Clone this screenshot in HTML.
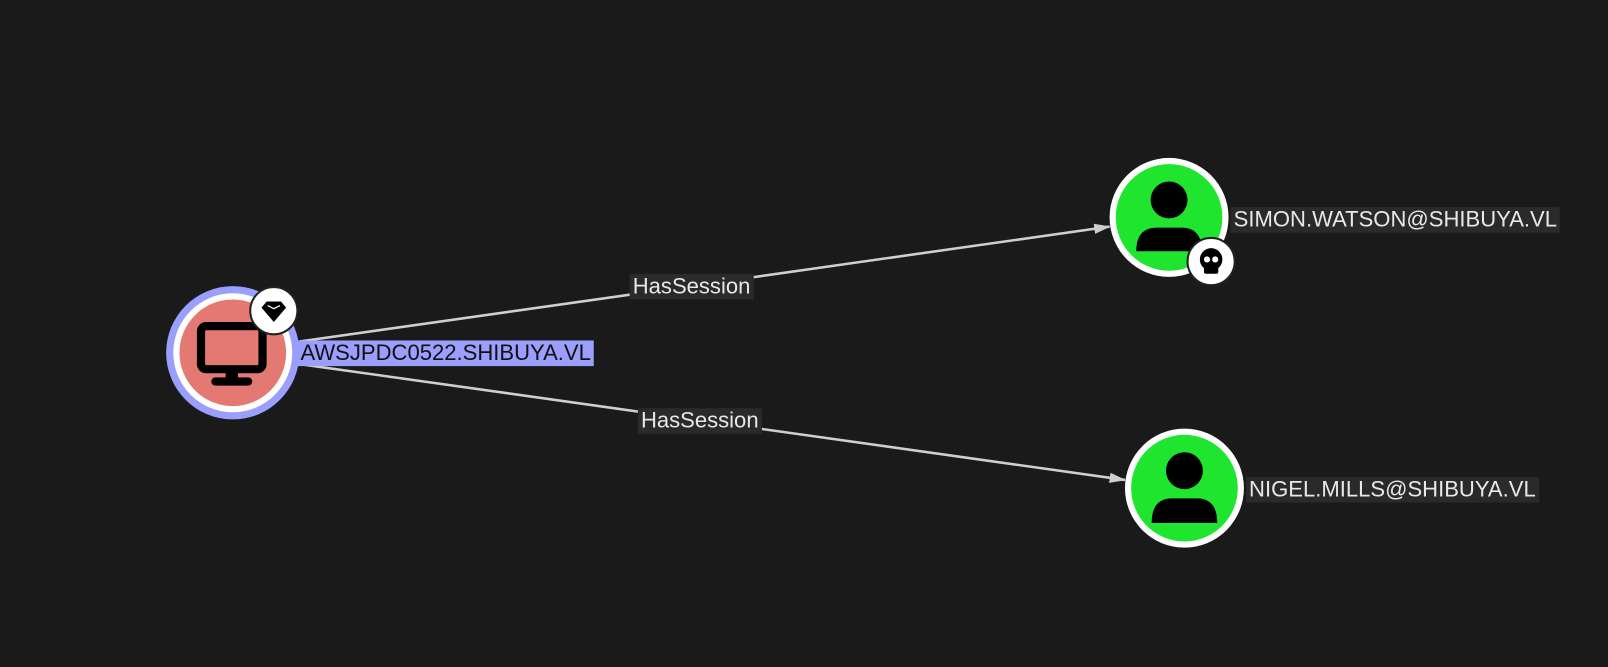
<!DOCTYPE html>
<html><head><style>
body{margin:0;background:#1a1a1a;width:1608px;height:667px;overflow:hidden;font-family:"Liberation Sans",sans-serif}
#w{position:absolute;left:0;top:0;width:1568px;height:650px;transform:scale(1.0255);transform-origin:0 0}
.l{position:absolute;font-size:21.5px;line-height:25px;padding:0 3px;color:#e8e8e8;background:#2a2a2a;white-space:nowrap}
</style></head><body><div id="w">
<svg width="1568" height="650" style="position:absolute;left:0;top:0">
<defs><marker id="a" markerWidth="16" markerHeight="10" refX="15" refY="5" orient="auto" markerUnits="userSpaceOnUse"><path d="M0,0L16,5L0,10z" fill="#cfcfcf"/></marker></defs>
<line x1="292" y1="333" x2="1082" y2="221" stroke="#cfcfcf" stroke-width="2.5" marker-end="url(#a)"/>
<line x1="292" y1="355" x2="1097" y2="468" stroke="#cfcfcf" stroke-width="2.5" marker-end="url(#a)"/>
<circle cx="227" cy="344" r="65" fill="#9a9efc"/>
<circle cx="227" cy="344" r="58" fill="#fff"/>
<circle cx="227" cy="344" r="52" fill="#e47872"/>
<rect x="196" y="318" width="60" height="42" rx="5" fill="none" stroke="#000" stroke-width="8"/>
<rect x="220" y="362" width="12" height="9" fill="#000"/>
<rect x="206" y="368" width="40" height="8" rx="4" fill="#000"/>
<circle cx="267" cy="303" r="23" fill="#fff" stroke="#222" stroke-width="2"/>
<path d="M255,300 L260,294 L274,294 L279,300 L267,314 Z" fill="#000"/>
<path d="M261,298 L267,301 L273,298" stroke="#fff" stroke-width="1.2" fill="none"/>
<circle cx="1140" cy="212" r="58" fill="#fff"/>
<circle cx="1140" cy="212" r="52" fill="#1fe52f"/>
<circle cx="1140" cy="195" r="18" fill="#000"/>
<path d="M1108,245 Q1108,222 1128,222 L1152,222 Q1172,222 1172,245 Z" fill="#000"/>
<circle cx="1181" cy="255" r="23" fill="#fff" stroke="#222" stroke-width="2"/>
<circle cx="1181" cy="253" r="11" fill="#000"/>
<rect x="1174" y="258" width="14" height="9" rx="2" fill="#000"/>
<circle cx="1177" cy="253" r="3" fill="#fff"/><circle cx="1185" cy="253" r="3" fill="#fff"/>
<circle cx="1155" cy="476" r="58" fill="#fff"/>
<circle cx="1155" cy="476" r="52" fill="#1fe52f"/>
<circle cx="1155" cy="459" r="18" fill="#000"/>
<path d="M1123,510 Q1123,486 1143,486 L1167,486 Q1187,486 1187,510 Z" fill="#000"/>
</svg>
<div class="l" style="left:290px;top:332px;background:#9a9efc;color:#111">AWSJPDC0522.SHIBUYA.VL</div>
<div class="l" style="left:1200px;top:202px">SIMON.WATSON@SHIBUYA.VL</div>
<div class="l" style="left:1215px;top:465px">NIGEL.MILLS@SHIBUYA.VL</div>
<div class="l" style="left:614px;top:267px">HasSession</div>
<div class="l" style="left:622px;top:398px">HasSession</div>
</div></body></html>
